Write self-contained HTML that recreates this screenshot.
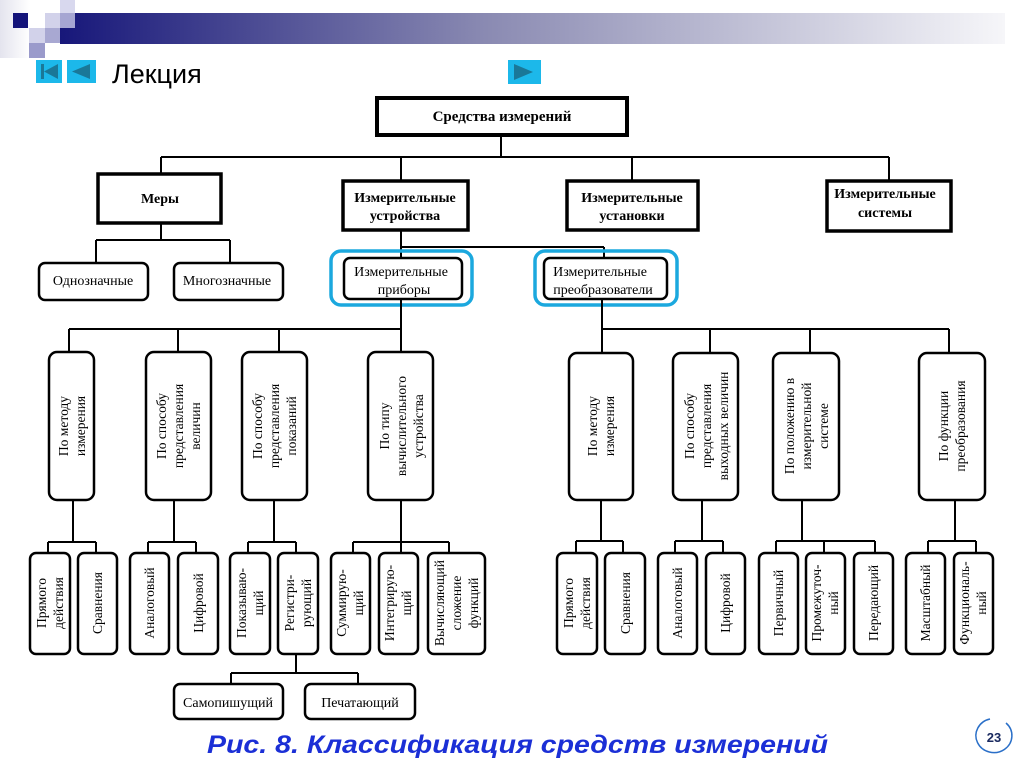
<!DOCTYPE html>
<html><head><meta charset="utf-8"><style>
html,body{margin:0;padding:0;background:#fff;}
svg{display:block;}
.s{font-family:"Liberation Serif","DejaVu Serif",serif;font-size:14px;fill:#000;}
.b{font-weight:bold;}
</style></head><body>
<svg width="1024" height="767" viewBox="0 0 1024 767" xmlns="http://www.w3.org/2000/svg">
<defs>
<linearGradient id="g" x1="0" x2="1" y1="0" y2="0">
<stop offset="0" stop-color="#17177a"/>
<stop offset="0.45" stop-color="#8a8ab2"/>
<stop offset="1" stop-color="#f6f6f9"/>
</linearGradient>
<linearGradient id="g2" x1="0" x2="1" y1="0" y2="0">
<stop offset="0" stop-color="#e4e4ee"/>
<stop offset="1" stop-color="#ffffff"/>
</linearGradient>
</defs>
<rect x="0" y="0" width="30" height="58" fill="url(#g2)"/>
<rect x="60" y="13" width="945" height="31" fill="url(#g)"/>
<rect x="13" y="13" width="15" height="15" fill="#14147a"/>
<rect x="45" y="13" width="15" height="15" fill="#d2d2ea"/>
<rect x="60" y="0" width="15" height="13" fill="#d8d8ee"/>
<rect x="60" y="13" width="15" height="15" fill="#a6a6d2"/>
<rect x="29" y="28" width="16" height="15" fill="#d2d2ea"/>
<rect x="45" y="28" width="15" height="15" fill="#a8a8d2"/>
<rect x="29" y="43" width="16" height="15" fill="#9a9acb"/>
<!-- nav -->
<rect x="36" y="60" width="26" height="23" fill="#1cb8ea"/>
<rect x="41" y="64" width="3" height="15" fill="#1a7898"/>
<polygon points="44,71.5 58,64 58,79" fill="#1a7898"/>
<rect x="67" y="60" width="29" height="23" fill="#1cb8ea"/>
<polygon points="72,71.5 90,64 90,79" fill="#1a7898"/>
<rect x="508" y="60" width="33" height="24" fill="#1cb8ea"/>
<polygon points="533,72 514,64 514,80" fill="#1a7898"/>
<text x="112" y="83" style="font-family:'Liberation Sans',sans-serif;font-size:27px;fill:#000">Лекция</text>

<g stroke="#000" fill="none">
<!-- top -->
<rect x="377" y="98" width="250" height="37" stroke-width="4"/>
<line x1="501" y1="135" x2="501" y2="157" stroke-width="2"/>
<line x1="161" y1="157" x2="889" y2="157" stroke-width="2"/>
<line x1="161" y1="157" x2="161" y2="174" stroke-width="2"/>
<line x1="401" y1="157" x2="401" y2="181" stroke-width="2"/>
<line x1="632" y1="157" x2="632" y2="181" stroke-width="2"/>
<line x1="889" y1="157" x2="889" y2="181" stroke-width="2"/>
<rect x="98" y="174" width="123" height="49" stroke-width="3.5"/>
<rect x="343" y="181" width="125" height="49" stroke-width="3.5"/>
<rect x="567" y="181" width="131" height="49" stroke-width="3.5"/>
<rect x="827" y="181" width="124" height="50" stroke-width="3.5"/>
<!-- меры children -->
<line x1="161" y1="223" x2="161" y2="240" stroke-width="2"/>
<line x1="96" y1="240" x2="230" y2="240" stroke-width="2"/>
<line x1="96" y1="240" x2="96" y2="263" stroke-width="2"/>
<line x1="230" y1="240" x2="230" y2="263" stroke-width="2"/>
<rect x="39" y="263" width="109" height="37" rx="6" stroke-width="2.5"/>
<rect x="174" y="263" width="109" height="37" rx="6" stroke-width="2.5"/>
<!-- устройства children -->
<line x1="401" y1="230" x2="401" y2="258" stroke-width="2"/>
<line x1="401" y1="247" x2="604" y2="247" stroke-width="2"/>
<line x1="604" y1="247" x2="604" y2="258" stroke-width="2"/>
<rect x="331" y="251" width="141" height="54" rx="10" stroke="#1ba8de" stroke-width="3.5"/>
<rect x="535" y="251" width="142" height="54" rx="10" stroke="#1ba8de" stroke-width="3.5"/>
<rect x="344" y="258" width="118" height="41" rx="6" stroke-width="2.5"/>
<rect x="544" y="258" width="123" height="41" rx="6" stroke-width="2.5"/>
<!-- left tree -->
<line x1="401" y1="299" x2="401" y2="352" stroke-width="2"/>
<line x1="69" y1="329" x2="401" y2="329" stroke-width="2"/>
<line x1="69" y1="329" x2="69" y2="352" stroke-width="2"/>
<line x1="178" y1="329" x2="178" y2="352" stroke-width="2"/>
<line x1="279" y1="329" x2="279" y2="352" stroke-width="2"/>
<rect x="49" y="352" width="45" height="148" rx="8" stroke-width="2.5"/>
<rect x="146" y="352" width="65" height="148" rx="8" stroke-width="2.5"/>
<rect x="242" y="352" width="65" height="148" rx="8" stroke-width="2.5"/>
<rect x="368" y="352" width="65" height="148" rx="8" stroke-width="2.5"/>
<line x1="73" y1="500" x2="73" y2="542" stroke-width="2"/>
<line x1="48" y1="542" x2="96" y2="542" stroke-width="2"/>
<line x1="48" y1="542" x2="48" y2="553" stroke-width="2"/>
<line x1="96" y1="542" x2="96" y2="553" stroke-width="2"/>
<line x1="174" y1="500" x2="174" y2="542" stroke-width="2"/>
<line x1="148" y1="542" x2="196" y2="542" stroke-width="2"/>
<line x1="148" y1="542" x2="148" y2="553" stroke-width="2"/>
<line x1="196" y1="542" x2="196" y2="553" stroke-width="2"/>
<line x1="274" y1="500" x2="274" y2="542" stroke-width="2"/>
<line x1="248" y1="542" x2="296" y2="542" stroke-width="2"/>
<line x1="248" y1="542" x2="248" y2="553" stroke-width="2"/>
<line x1="296" y1="542" x2="296" y2="553" stroke-width="2"/>
<line x1="401" y1="500" x2="401" y2="553" stroke-width="2"/>
<line x1="353" y1="542" x2="449" y2="542" stroke-width="2"/>
<line x1="353" y1="542" x2="353" y2="553" stroke-width="2"/>
<line x1="449" y1="542" x2="449" y2="553" stroke-width="2"/>
<rect x="30" y="553" width="40" height="101" rx="6" stroke-width="2.5"/>
<rect x="78" y="553" width="39" height="101" rx="6" stroke-width="2.5"/>
<rect x="130" y="553" width="39" height="101" rx="6" stroke-width="2.5"/>
<rect x="178" y="553" width="40" height="101" rx="6" stroke-width="2.5"/>
<rect x="230" y="553" width="40" height="101" rx="6" stroke-width="2.5"/>
<rect x="278" y="553" width="40" height="101" rx="6" stroke-width="2.5"/>
<rect x="331" y="553" width="39" height="101" rx="6" stroke-width="2.5"/>
<rect x="379" y="553" width="39" height="101" rx="6" stroke-width="2.5"/>
<rect x="428" y="553" width="57" height="101" rx="6" stroke-width="2.5"/>
<line x1="296" y1="654" x2="296" y2="673" stroke-width="2"/>
<line x1="231" y1="673" x2="358" y2="673" stroke-width="2"/>
<line x1="231" y1="673" x2="231" y2="684" stroke-width="2"/>
<line x1="358" y1="673" x2="358" y2="684" stroke-width="2"/>
<rect x="174" y="684" width="109" height="35" rx="6" stroke-width="2.5"/>
<rect x="305" y="684" width="110" height="35" rx="6" stroke-width="2.5"/>
<!-- right tree -->
<line x1="602" y1="299" x2="602" y2="353" stroke-width="2"/>
<line x1="602" y1="329" x2="949" y2="329" stroke-width="2"/>
<line x1="710" y1="329" x2="710" y2="353" stroke-width="2"/>
<line x1="810" y1="329" x2="810" y2="353" stroke-width="2"/>
<line x1="949" y1="329" x2="949" y2="353" stroke-width="2"/>
<rect x="569" y="353" width="64" height="147" rx="8" stroke-width="2.5"/>
<rect x="673" y="353" width="65" height="147" rx="8" stroke-width="2.5"/>
<rect x="773" y="353" width="66" height="147" rx="8" stroke-width="2.5"/>
<rect x="919" y="353" width="66" height="147" rx="8" stroke-width="2.5"/>
<line x1="601" y1="500" x2="601" y2="541" stroke-width="2"/>
<line x1="576" y1="541" x2="623" y2="541" stroke-width="2"/>
<line x1="576" y1="541" x2="576" y2="553" stroke-width="2"/>
<line x1="623" y1="541" x2="623" y2="553" stroke-width="2"/>
<line x1="702" y1="500" x2="702" y2="541" stroke-width="2"/>
<line x1="675" y1="541" x2="723" y2="541" stroke-width="2"/>
<line x1="675" y1="541" x2="675" y2="553" stroke-width="2"/>
<line x1="723" y1="541" x2="723" y2="553" stroke-width="2"/>
<line x1="802" y1="500" x2="802" y2="541" stroke-width="2"/>
<line x1="776" y1="541" x2="875" y2="541" stroke-width="2"/>
<line x1="776" y1="541" x2="776" y2="553" stroke-width="2"/>
<line x1="824" y1="541" x2="824" y2="553" stroke-width="2"/>
<line x1="875" y1="541" x2="875" y2="553" stroke-width="2"/>
<line x1="955" y1="500" x2="955" y2="541" stroke-width="2"/>
<line x1="928" y1="541" x2="976" y2="541" stroke-width="2"/>
<line x1="928" y1="541" x2="928" y2="553" stroke-width="2"/>
<line x1="976" y1="541" x2="976" y2="553" stroke-width="2"/>
<rect x="557" y="553" width="40" height="101" rx="6" stroke-width="2.5"/>
<rect x="605" y="553" width="40" height="101" rx="6" stroke-width="2.5"/>
<rect x="658" y="553" width="39" height="101" rx="6" stroke-width="2.5"/>
<rect x="706" y="553" width="39" height="101" rx="6" stroke-width="2.5"/>
<rect x="759" y="553" width="39" height="101" rx="6" stroke-width="2.5"/>
<rect x="806" y="553" width="39" height="101" rx="6" stroke-width="2.5"/>
<rect x="854" y="553" width="39" height="101" rx="6" stroke-width="2.5"/>
<rect x="906" y="553" width="39" height="101" rx="6" stroke-width="2.5"/>
<rect x="954" y="553" width="39" height="101" rx="6" stroke-width="2.5"/>
</g>

<!-- horizontal texts -->
<g class="s" text-anchor="middle">
<text x="502" y="121" class="s b" style="font-size:15px">Средства измерений</text>
<text x="160" y="203" class="s b">Меры</text>
<text x="405" y="202" class="s b">Измерительные</text>
<text x="405" y="220" class="s b">устройства</text>
<text x="632" y="202" class="s b">Измерительные</text>
<text x="632" y="220" class="s b">установки</text>
<text x="885" y="198" class="s b">Измерительные</text>
<text x="885" y="217" class="s b">системы</text>
<text x="93" y="285">Однозначные</text>
<text x="227" y="285">Многозначные</text>
<text x="401" y="276">Измерительные</text>
<text x="404" y="294">приборы</text>
<text x="600" y="276">Измерительные</text>
<text x="603" y="294">преобразователи</text>
<text x="228" y="707">Самопишущий</text>
<text x="360" y="707">Печатающий</text>
</g>

<!-- rotated texts -->
<g class="s" text-anchor="middle" style="font-size:13.5px">
<text transform="translate(72,426) rotate(-90)"><tspan x="0" y="-4">По методу</tspan><tspan x="0" y="13">измерения</tspan></text>
<text transform="translate(178,426) rotate(-90)"><tspan x="0" y="-12">По способу</tspan><tspan x="0" y="5">представления</tspan><tspan x="0" y="22">величин</tspan></text>
<text transform="translate(274,426) rotate(-90)"><tspan x="0" y="-12">По способу</tspan><tspan x="0" y="5">представления</tspan><tspan x="0" y="22">показаний</tspan></text>
<text transform="translate(401,426) rotate(-90)"><tspan x="0" y="-12">По типу</tspan><tspan x="0" y="5">вычислительного</tspan><tspan x="0" y="22">устройства</tspan></text>
<text transform="translate(601,426) rotate(-90)"><tspan x="0" y="-4">По методу</tspan><tspan x="0" y="13">измерения</tspan></text>
<text transform="translate(706,426) rotate(-90)"><tspan x="0" y="-12">По способу</tspan><tspan x="0" y="5">представления</tspan><tspan x="0" y="22">выходных величин</tspan></text>
<text transform="translate(806,426) rotate(-90)"><tspan x="0" y="-12">По положению в</tspan><tspan x="0" y="5">измерительной</tspan><tspan x="0" y="22">системе</tspan></text>
<text transform="translate(952,426) rotate(-90)"><tspan x="0" y="-4">По функции</tspan><tspan x="0" y="13">преобразования</tspan></text>

<text transform="translate(50,603) rotate(-90)"><tspan x="0" y="-4">Прямого</tspan><tspan x="0" y="13">действия</tspan></text>
<text transform="translate(97,603) rotate(-90)"><tspan x="0" y="5">Сравнения</tspan></text>
<text transform="translate(149,603) rotate(-90)"><tspan x="0" y="5">Аналоговый</tspan></text>
<text transform="translate(198,603) rotate(-90)"><tspan x="0" y="5">Цифровой</tspan></text>
<text transform="translate(250,603) rotate(-90)"><tspan x="0" y="-4">Показываю-</tspan><tspan x="0" y="13">щий</tspan></text>
<text transform="translate(298,603) rotate(-90)"><tspan x="0" y="-4">Регистри-</tspan><tspan x="0" y="13">рующий</tspan></text>
<text transform="translate(350,603) rotate(-90)"><tspan x="0" y="-4">Суммирую-</tspan><tspan x="0" y="13">щий</tspan></text>
<text transform="translate(398,603) rotate(-90)"><tspan x="0" y="-4">Интегрирую-</tspan><tspan x="0" y="13">щий</tspan></text>
<text transform="translate(456,603) rotate(-90)"><tspan x="0" y="-12">Вычисляющий</tspan><tspan x="0" y="5">сложение</tspan><tspan x="0" y="22">функций</tspan></text>

<text transform="translate(577,603) rotate(-90)"><tspan x="0" y="-4">Прямого</tspan><tspan x="0" y="13">действия</tspan></text>
<text transform="translate(625,603) rotate(-90)"><tspan x="0" y="5">Сравнения</tspan></text>
<text transform="translate(677,603) rotate(-90)"><tspan x="0" y="5">Аналоговый</tspan></text>
<text transform="translate(725,603) rotate(-90)"><tspan x="0" y="5">Цифровой</tspan></text>
<text transform="translate(778,603) rotate(-90)"><tspan x="0" y="5">Первичный</tspan></text>
<text transform="translate(825,603) rotate(-90)"><tspan x="0" y="-4">Промежуточ-</tspan><tspan x="0" y="13">ный</tspan></text>
<text transform="translate(873,603) rotate(-90)"><tspan x="0" y="5">Передающий</tspan></text>
<text transform="translate(925,603) rotate(-90)"><tspan x="0" y="5">Масштабный</tspan></text>
<text transform="translate(973,603) rotate(-90)"><tspan x="0" y="-4">Функциональ-</tspan><tspan x="0" y="13">ный</tspan></text>
</g>

<text x="207" y="753" textLength="621" lengthAdjust="spacingAndGlyphs" style="font-family:'Liberation Sans',sans-serif;font-size:25px;font-weight:bold;font-style:italic;fill:#1b2fd6">Рис. 8. Классификация средств измерений</text>
<path d="M 1006 723 A 18 17 0 1 1 990 719" fill="none" stroke="#2a6fc8" stroke-width="1.5"/>
<text x="994" y="742" text-anchor="middle" style="font-family:'Liberation Sans',sans-serif;font-size:13px;font-weight:bold;fill:#1a2a60">23</text>
</svg>
</body></html>
